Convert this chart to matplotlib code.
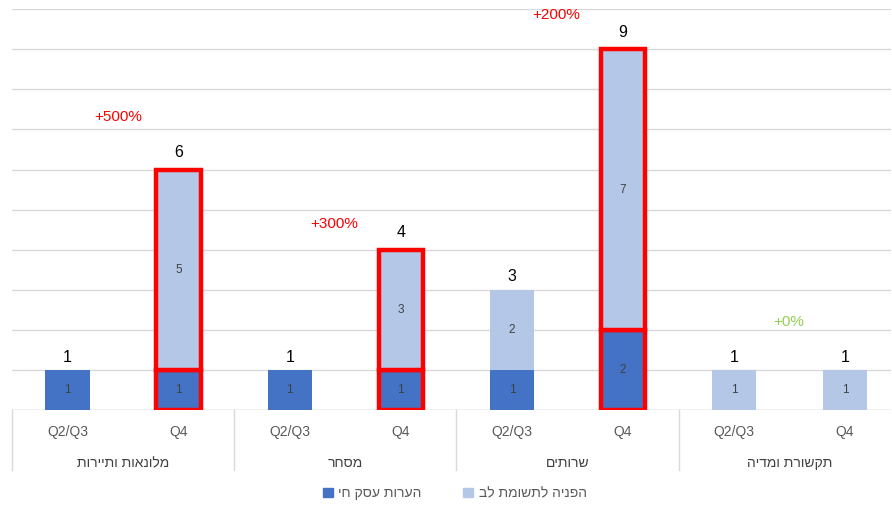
import numpy as np
import matplotlib.pyplot as plt
from matplotlib.patches import Patch

plt.rcParams['font.family'] = ['Liberation Sans', 'DejaVu Sans']

# data
groups = ['מלונאות ותיירות', 'מסחר', 'שרותים', 'תקשורת ומדיה']
periods = ['Q2/Q3', 'Q4']
dark_vals = [1, 1, 1, 1, 1, 2, 0, 0]     # הערות עסק חי
light_vals = [0, 5, 0, 3, 2, 7, 1, 1]    # הפניה לתשומת לב
changes = ['+500%', '+300%', '+200%', '+0%']
change_colors = ['#FF0000', '#FF0000', '#FF0000', '#92D050']
highlight = [False, True, False, True, False, True, False, False]
series_names = ['הערות עסק חי', 'הפניה לתשומת לב']

dark_c = '#4472C4'
light_c = '#B4C7E7'


def rtl(s):
    # matplotlib has no bidi support, reverse for display
    return s[::-1]


fig = plt.figure(figsize=(8.92, 5.07), dpi=100)
ax = fig.add_axes([0.0135, 0.191, 0.985, 0.791])

x = np.arange(len(dark_vals))
dark = np.array(dark_vals)
light = np.array(light_vals)
totals = dark + light
w = 0.4

for i in range(len(x)):
    ec = '#FF0000' if highlight[i] else 'none'
    lw = 3.2 if highlight[i] else 0
    if dark[i] > 0:
        ax.bar(x[i], dark[i], w, color=dark_c, edgecolor=ec, linewidth=lw, zorder=3)
        ax.text(x[i], dark[i] / 2, str(dark[i]), ha='center', va='center',
                fontsize=8.5, color='#404040', zorder=4)
    if light[i] > 0:
        ax.bar(x[i], light[i], w, bottom=dark[i], color=light_c, edgecolor=ec,
               linewidth=lw, zorder=3)
        ax.text(x[i], dark[i] + light[i] / 2, str(light[i]), ha='center', va='center',
                fontsize=8.5, color='#404040', zorder=4)
    top_pad = 7 if highlight[i] else 4
    ax.annotate(str(totals[i]), (x[i], totals[i]), xytext=(0, top_pad),
                textcoords='offset points', ha='center', va='bottom',
                fontsize=11.5, color='black')

# change labels, one per group
change_x = [0.46, 2.4, 4.4, 6.49]
change_y = [7.3, 4.65, 9.85, 2.2]
for g in range(len(groups)):
    ax.text(change_x[g], change_y[g], changes[g], ha='center', va='center',
            fontsize=11, color=change_colors[g])

ax.set_xlim(-0.5, 7.41)
ax.set_ylim(0, 10)
ax.set_yticks(np.arange(0, 11, 1))
ax.yaxis.grid(True, color='#D9D9D9', linewidth=1, zorder=0)
ax.tick_params(left=False, labelleft=False, bottom=False, labelbottom=False)
for s in ax.spines.values():
    s.set_visible(False)
ax.axhline(0, color='#D9D9D9', linewidth=1, zorder=2)

# category axis labels
trans = ax.get_xaxis_transform()
for i in range(len(x)):
    ax.text(x[i], -0.055, periods[i % 2], transform=trans, ha='center', va='center',
            fontsize=10, color='#595959')
for g in range(len(groups)):
    ax.text(2 * g + 0.5, -0.132, rtl(groups[g]), transform=trans, ha='center',
            va='center', fontsize=10, color='#404040')
for b in np.arange(-0.5, 8, 2):
    ax.plot([b, b], [0, -0.15], transform=trans, color='#D9D9D9', linewidth=1,
            clip_on=False)

handles = [Patch(color=dark_c, label=rtl(series_names[0])),
           Patch(color=light_c, label=rtl(series_names[1]))]
fig.legend(handles=handles, loc='center', bbox_to_anchor=(0.51, 0.027), ncol=2,
           frameon=False, fontsize=10, handlelength=0.7, handleheight=0.7,
           handletextpad=0.4, columnspacing=3.0, labelcolor='#595959')

fig.savefig('out.png', dpi=100)
